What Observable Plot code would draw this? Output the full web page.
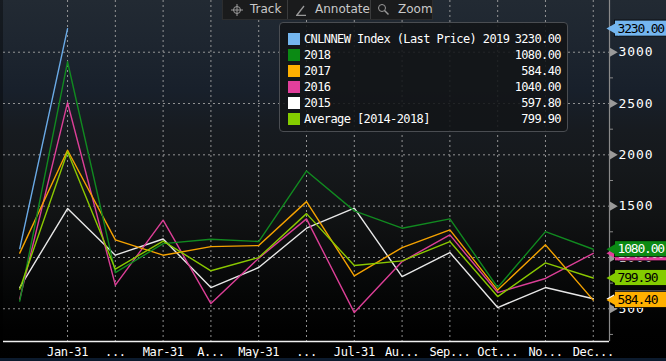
<!DOCTYPE html>
<html><head><meta charset="utf-8">
<script src="https://cdn.jsdelivr.net/npm/d3@7"></script>
<script src="https://cdn.jsdelivr.net/npm/@observablehq/plot@0.6"></script>
<style>
html,body{margin:0;padding:0;background:#000;overflow:hidden;width:666px;height:361px}
#wrap{position:relative;width:666px;height:361px;overflow:hidden;
 background:linear-gradient(to bottom,#222a33 0px,#1e2630 40px,#18202b 90px,#171b20 130px,#15181b 170px,#111314 215px,#0b0c0d 255px,#050606 295px,#010101 330px,#000 361px);}
#chartbox{position:absolute;left:0;top:0;width:666px;height:361px}
#chartbox > svg{display:block;max-width:none !important;width:666px;height:361px}
#leftstrip{position:absolute;left:0;top:0;width:3px;height:341px;background:rgba(0,0,0,0.35)}
#bottomstrip{position:absolute;left:0;top:358px;width:666px;height:3px;background:#0c1b2e}
#legend{position:absolute;left:279px;top:22px;width:287px;height:108px;background:rgba(18,20,23,0.88);border:1px solid #4a4d52;border-radius:4px;}
.lrow{position:absolute;left:0;width:287px;height:16px;font-family:"DejaVu Sans Mono",monospace;font-size:12px;letter-spacing:-0.6px;color:#fff;line-height:16px}
.sw{position:absolute;left:8px;top:2px;width:12px;height:12px}
.ln{position:absolute;left:24px;top:0}
.lv{position:absolute;right:6px;top:0}
#toolbar{position:absolute;left:222px;top:0;width:211px;height:20px;background:#1a1b1c;border:1px solid #2c2d2e;border-top:none;box-sizing:border-box;font-family:"DejaVu Sans",sans-serif;font-size:12px;color:#c9c9c9}
.tb{position:absolute;top:0;height:19px;line-height:19px}
.sep{position:absolute;top:0;width:1px;height:19px;background:#3a3b3c}
.ic{position:absolute}
</style></head><body>
<div id="wrap"><div id="chartbox"></div><div id="leftstrip"></div></div>
<script>
// ---- data ----
const xLabels = ["Jan-31","...","Mar-31","A...","May-31","...","Jul-31","Au...","Sep...","Oct...","No...","Dec..."];
const yTicks = [500,1000,1500,2000,2500,3000];
const yMinor = [250,750,1250,1750,2250,2750,3250];
const s2019 = [1087, 3230];
const s2018 = [575, 2907, 853, 1135, 1178, 1155, 1843, 1454, 1285, 1376, 707, 1252, 1080];
const s2017 = [1042, 2045, 1171, 1022, 1106, 1116, 1544, 821, 1096, 1269, 682, 1123, 584.4];
const s2016 = [595, 2508, 730, 1363, 551, 993, 1376, 463, 960, 1220, 658, 795, 1040];
const s2015 = [707, 1476, 1022, 1180, 707, 902, 1285, 1480, 814, 1048, 512, 707, 597.8];
const sAvg  = [691, 2031, 886, 1160, 870, 999, 1427, 921, 967, 1155, 619, 947, 799.9];
const legendNames = ["CNLNNEW Index (Last Price) 2019","2018","2017","2016","2015","Average [2014-2018]"];
const legendValues = ["3230.00","1080.00","584.40","1040.00","597.80","799.90"];
const lastValues = [3230, 1080, 584.4, 1040, 597.8, 799.9];
const swatchColors = ["#74b6ef","#0b8a14","#ffb000","#e23f9c","#ffffff","#84cc00"];
const lineColors = ["#6aaae6","#118a20","#f5a300","#dc3f97","#e8e8e8","#8ac800"];
const labelText = ["#000","#fff","#000","#fff","#000","#000"];

const seriesData = [s2019, s2018, s2017, s2016, s2015, sAvg];
const drawOrder = [4,3,2,1,5,0];
const flagOrder = [3,4,0,1,5,2];

const xMin = -0.34, xMax = 12.34;
const pxX = 47.8;                 // px per x unit
const pxY = 0.10264;              // px per y unit
const mono = "DejaVu Sans Mono, monospace";

const flags = flagOrder.map(k => ({v: lastValues[k], fill: swatchColors[k], txt: legendValues[k], tc: labelText[k]}));
const half = 8 / pxY;

const flagMarks = flags.flatMap(f => [
  Plot.rect([f], {x1: xMax + 5.5/pxX, x2: xMax + 60/pxX, y1: d => d.v - half, y2: d => d.v + half, fill: d => d.fill, stroke: "#000", strokeWidth: 0.8}),
  Plot.dot([f], {x: xMax + 5.2/pxX, y: d => d.v, symbol: "triangle", rotate: -90, r: 5.3, fill: d => d.fill}),
  Plot.text([f], {x: xMax + 8/pxX, y: d => d.v, text: d => d.txt, fill: d => d.tc, textAnchor: "start", fontFamily: mono, fontSize: 13})
]);

const chart = Plot.plot({
  width: 666, height: 361,
  marginLeft: 3, marginRight: 57, marginTop: 0, marginBottom: 20,
  style: {background: "transparent", color: "#fff", overflow: "visible"},
  x: {domain: [xMin, xMax], axis: null},
  y: {domain: [181, 3504], axis: null},
  color: {type: "identity"},
  marks: [
    Plot.ruleY(yTicks, {stroke: "#a8a8a8", strokeDasharray: "2,3", strokeWidth: 1, strokeOpacity: 0.85}),
    Plot.ruleX(d3.range(1, 13), {stroke: "#a8a8a8", strokeDasharray: "2,3", strokeWidth: 1, strokeOpacity: 0.85}),
    ...drawOrder.map(k => Plot.line(seriesData[k], {x: (d, i) => i, y: d => d, stroke: lineColors[k], strokeWidth: 1.4})),
    Plot.ruleY([181], {stroke: "#f0f0f0", strokeWidth: 1.5}),
    Plot.ruleX([xMax], {stroke: "#8a8a8a", strokeWidth: 1.2}),
    Plot.ruleY(yMinor, {x1: xMax, x2: xMax + 4/pxX, stroke: "#8a8a8a"}),
    Plot.dot(yTicks, {x: xMax + 3/pxX, y: d => d, symbol: "triangle", rotate: 90, r: 3.4, fill: "#9a9a9a"}),
    Plot.text(yTicks, {x: xMax + 9/pxX, y: d => d, text: d => String(d), textAnchor: "start", fill: "#fff", fontFamily: mono, fontSize: 13}),
    Plot.text(xLabels, {x: (d, i) => i + 1, y: 181, dy: 11, text: d => d, fill: "#fff", fontFamily: mono, fontSize: 12}),
    ...flagMarks
  ]
});

const wrap = document.getElementById("wrap");
document.getElementById("chartbox").appendChild(chart);

// letter spacing tweaks (Bloomberg font is narrow)
const valSet = new Set(legendValues), tickSet = new Set(yTicks.map(String)), xSet = new Set(xLabels);
d3.select(chart).selectAll("text").each(function() {
  const t = this.textContent;
  if (valSet.has(t)) this.style.letterSpacing = "-1.2px";
  else if (tickSet.has(t)) this.style.letterSpacing = "0.9px";
  else if (xSet.has(t)) this.style.letterSpacing = "-0.4px";
});

// legend
const leg = document.createElement("div");
leg.id = "legend";
legendNames.forEach((n, i) => {
  const r = document.createElement("div");
  r.className = "lrow";
  r.style.top = (8 + i * 16) + "px";
  r.innerHTML = `<div class="sw" style="background:${swatchColors[i]}"></div><span class="ln">${n}</span><span class="lv">${legendValues[i]}</span>`;
  leg.appendChild(r);
});
wrap.appendChild(leg);

// toolbar
const tb = document.createElement("div");
tb.id = "toolbar";
tb.innerHTML = `
<svg class="ic" style="left:8px;top:4px" width="12" height="12"><circle cx="6" cy="6" r="3.5" fill="none" stroke="#9a9a9a"/><path d="M6 0V12M0 6H12" stroke="#9a9a9a"/></svg>
<span class="tb" style="left:27px">Track</span>
<div class="sep" style="left:64px"></div>
<svg class="ic" style="left:72px;top:4px" width="12" height="12"><path d="M2 11L9 2M1 11.5H11" stroke="#9a9a9a" stroke-width="1.3"/></svg>
<span class="tb" style="left:92px">Annotate</span>
<div class="sep" style="left:147px"></div>
<svg class="ic" style="left:154px;top:3px" width="13" height="13"><circle cx="5" cy="5" r="3.5" fill="none" stroke="#9a9a9a"/><path d="M7.5 7.5L11.5 11.5" stroke="#9a9a9a" stroke-width="1.5"/></svg>
<span class="tb" style="left:175px">Zoom</span>`;
wrap.appendChild(tb);

const bs = document.createElement("div");
bs.id = "bottomstrip";
wrap.appendChild(bs);
</script>
</body></html>
